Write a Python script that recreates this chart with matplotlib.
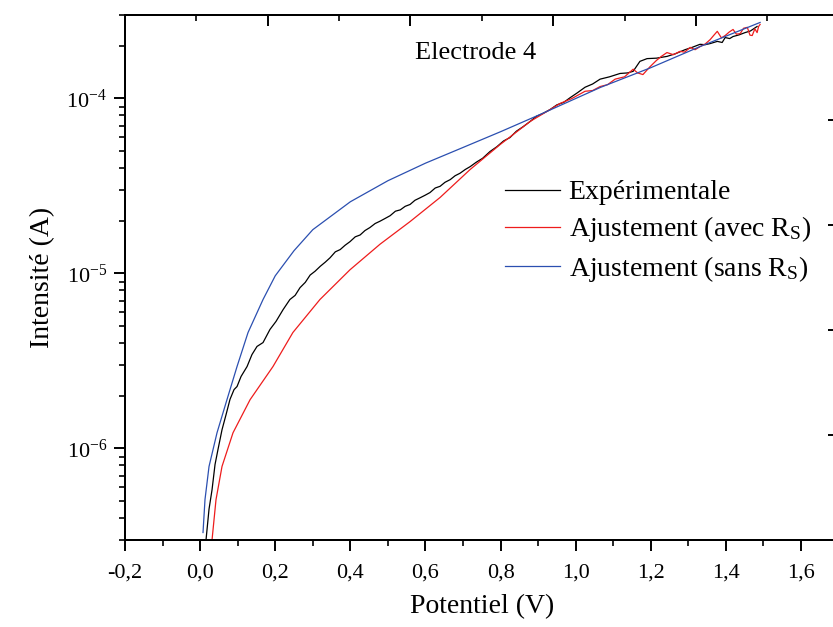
import matplotlib
matplotlib.use("Agg")
import matplotlib.pyplot as plt
from matplotlib.ticker import FixedLocator, LogLocator, NullFormatter, MultipleLocator, FuncFormatter

plt.rcParams['font.family'] = ['Liberation Serif', 'DejaVu Serif']
plt.rcParams['mathtext.fontset'] = 'custom'
plt.rcParams['mathtext.rm'] = 'Liberation Serif'
plt.rcParams['mathtext.it'] = 'Liberation Serif:italic'
plt.rcParams['mathtext.bf'] = 'Liberation Serif:bold'

# ---- data (V, A) ----
exp_V = [0.0157, 0.0237, 0.0317, 0.0397, 0.0477, 0.0583, 0.069, 0.0796, 0.0903, 0.0983,
         0.109, 0.125, 0.138, 0.1515, 0.1675, 0.186, 0.202, 0.221, 0.239, 0.253,
         0.266, 0.28, 0.293, 0.306, 0.32, 0.333, 0.346, 0.36, 0.373, 0.386,
         0.399, 0.413, 0.426, 0.439, 0.452, 0.466, 0.479, 0.492, 0.506, 0.52,
         0.533, 0.546, 0.559, 0.572, 0.586, 0.599, 0.612, 0.626, 0.639, 0.652,
         0.666, 0.679, 0.692, 0.706, 0.719, 0.735, 0.752, 0.772, 0.79, 0.808,
         0.825, 0.842, 0.86, 0.879, 0.895, 0.912, 0.932, 0.95, 0.968, 0.985,
         1.005, 1.025, 1.045, 1.065, 1.09, 1.118, 1.138, 1.153, 1.171, 1.19,
         1.215, 1.243, 1.265, 1.291, 1.31, 1.331, 1.345, 1.358, 1.377, 1.39,
         1.398, 1.41, 1.419, 1.435, 1.451, 1.465, 1.483]
exp_I = [3.0e-7, 4.5e-7, 5.8e-7, 8.1e-7, 9.9e-7, 1.28e-6, 1.56e-6, 1.91e-6, 2.17e-6, 2.26e-6,
         2.58e-6, 2.94e-6, 3.44e-6, 3.83e-6, 4.03e-6, 4.79e-6, 5.32e-6, 6.22e-6, 7.1e-6, 7.5e-6,
         8.3e-6, 8.9e-6, 9.8e-6, 1.03e-5, 1.10e-5, 1.16e-5, 1.23e-5, 1.33e-5, 1.37e-5, 1.45e-5,
         1.52e-5, 1.62e-5, 1.66e-5, 1.76e-5, 1.83e-5, 1.93e-5, 1.99e-5, 2.06e-5, 2.14e-5, 2.27e-5,
         2.31e-5, 2.42e-5, 2.48e-5, 2.62e-5, 2.71e-5, 2.80e-5, 2.90e-5, 3.08e-5, 3.15e-5, 3.32e-5,
         3.44e-5, 3.62e-5, 3.74e-5, 3.93e-5, 4.08e-5, 4.32e-5, 4.55e-5, 4.98e-5, 5.3e-5, 5.72e-5,
         5.98e-5, 6.5e-5, 6.9e-5, 7.4e-5, 7.9e-5, 8.2e-5, 8.65e-5, 9.2e-5, 9.5e-5, 1.01e-4,
         1.08e-4, 1.16e-4, 1.21e-4, 1.29e-4, 1.33e-4, 1.39e-4, 1.40e-4, 1.43e-4, 1.63e-4, 1.69e-4,
         1.70e-4, 1.74e-4, 1.80e-4, 1.9e-4, 1.96e-4, 2.04e-4, 2.03e-4, 2.06e-4, 2.12e-4, 2.09e-4,
         2.23e-4, 2.20e-4, 2.26e-4, 2.31e-4, 2.38e-4, 2.43e-4, 2.58e-4]

rs_V = [0.0317, 0.0423, 0.0583, 0.0876, 0.133, 0.194, 0.247, 0.319, 0.399, 0.479,
        0.559, 0.639, 0.719, 0.799, 0.879, 0.93, 0.958, 0.99, 1.025, 1.045,
        1.065, 1.085, 1.105, 1.13, 1.153, 1.165, 1.179, 1.198, 1.215, 1.228,
        1.243, 1.26, 1.278, 1.29, 1.305, 1.318, 1.331, 1.345, 1.358, 1.368,
        1.377, 1.388, 1.398, 1.409, 1.419, 1.428, 1.438, 1.447, 1.457, 1.464,
        1.47, 1.477, 1.483, 1.487, 1.491]
rs_I = [3.0e-7, 5.1e-7, 7.9e-7, 1.23e-6, 1.9e-6, 2.94e-6, 4.6e-6, 7.1e-6, 1.05e-5, 1.47e-5,
        1.98e-5, 2.72e-5, 3.93e-5, 5.46e-5, 7.4e-5, 8.6e-5, 9.36e-5, 1.0e-4, 1.1e-4, 1.11e-4,
        1.17e-4, 1.20e-4, 1.29e-4, 1.33e-4, 1.47e-4, 1.40e-4, 1.37e-4, 1.52e-4, 1.65e-4, 1.74e-4,
        1.83e-4, 1.78e-4, 1.86e-4, 1.84e-4, 1.96e-4, 1.90e-4, 1.98e-4, 2.05e-4, 2.17e-4, 2.30e-4,
        2.42e-4, 2.22e-4, 2.29e-4, 2.40e-4, 2.48e-4, 2.33e-4, 2.35e-4, 2.52e-4, 2.55e-4, 2.30e-4,
        2.29e-4, 2.50e-4, 2.38e-4, 2.58e-4, 2.65e-4]

nors_V = [0.0077, 0.013, 0.0237, 0.045, 0.0716, 0.0983, 0.1276, 0.1675, 0.2, 0.25,
          0.3, 0.4, 0.5, 0.6, 0.7, 0.8, 0.905, 1.065, 1.2, 1.331, 1.491]
nors_I = [3.31e-7, 5.11e-7, 7.89e-7, 1.23e-6, 1.905e-6, 2.94e-6, 4.6e-6, 7.1e-6, 9.7e-6, 1.35e-5,
          1.78e-5, 2.57e-5, 3.39e-5, 4.27e-5, 5.25e-5, 6.46e-5, 8.1e-5, 1.155e-4, 1.5e-4, 1.98e-4,
          2.72e-4]

labels = ["Expérimentale", r"Ajustement (avec R$_\mathrm{S}$)", r"Ajustement (sans R$_\mathrm{S}$)"]
x_ticks = [-0.2, 0.0, 0.2, 0.4, 0.6, 0.8, 1.0, 1.2, 1.4, 1.6]

fig = plt.figure(figsize=(8.33, 6.27), dpi=100)
W, H = 833, 627
ax = fig.add_axes([125 / W, (H - 540) / H, (838.6 - 125) / W, (540 - 15) / H])

ax.plot(exp_V, exp_I, color='black', lw=0.9, label=labels[0])
ax.plot(rs_V, rs_I, color='#ee1c1c', lw=0.9, label=labels[1])
ax.plot(nors_V, nors_I, color='#2b4fb0', lw=0.9, label=labels[2])

ax.set_yscale('log')
ax.set_xlim(-0.2, 1.7)
ax.set_ylim(3.0e-7, 3.0e-4)

ax.xaxis.set_major_locator(FixedLocator(x_ticks))
ax.xaxis.set_minor_locator(MultipleLocator(0.1))
ax.xaxis.set_major_formatter(FuncFormatter(lambda v, p: f"{v:.1f}".replace('.', ',').replace('-0,0', '0,0')))
ax.yaxis.set_major_locator(LogLocator(base=10, numticks=10))
ax.yaxis.set_minor_locator(LogLocator(base=10, subs=range(2, 10), numticks=20))
ax.yaxis.set_minor_formatter(NullFormatter())

ax.tick_params(which='major', direction='out', length=8, width=1.4, labelsize=16, pad=5)
ax.tick_params(which='minor', direction='out', length=4.3, width=1.2)
ax.tick_params(axis='x', which='major', pad=9)
ax.tick_params(top=False, right=False, which='both')
for s in ax.spines.values():
    s.set_linewidth(1.4)

ax.set_xlabel("Potentiel (V)", fontsize=20, labelpad=8)
ax.set_ylabel("Intensité (A)", fontsize=20, labelpad=8)

ax.text(0.406, 0.928, "Electrode 4", transform=ax.transAxes, fontsize=19, va='center', ha='left')

ax.legend(loc='upper left', bbox_to_anchor=(0.532, 0.686), frameon=False, fontsize=20,
          handlelength=2.0, handletextpad=0.3, labelspacing=0.33, borderpad=0, borderaxespad=0)

# secondary (misaligned) top / right tick layers
axt = ax.twiny()
axt.set_xlim(0, 5)
axt.xaxis.set_major_locator(MultipleLocator(1))
axt.xaxis.set_minor_locator(MultipleLocator(0.5))
axt.tick_params(which='major', direction='in', length=8, width=1.4, labeltop=False, top=True)
axt.tick_params(which='minor', direction='in', length=4.3, width=1.2, top=True)
axr = ax.twinx()
axr.set_ylim(0, 5)
axr.yaxis.set_major_locator(MultipleLocator(1))
axr.yaxis.set_minor_locator(MultipleLocator(0.5))
axr.tick_params(which='major', direction='in', length=8, width=1.4, labelright=False, right=True)
axr.tick_params(which='minor', direction='in', length=4.3, width=1.2, right=True)
for a in (axt, axr):
    for s in a.spines.values():
        s.set_linewidth(1.4)

fig.savefig("out.png", dpi=100)
